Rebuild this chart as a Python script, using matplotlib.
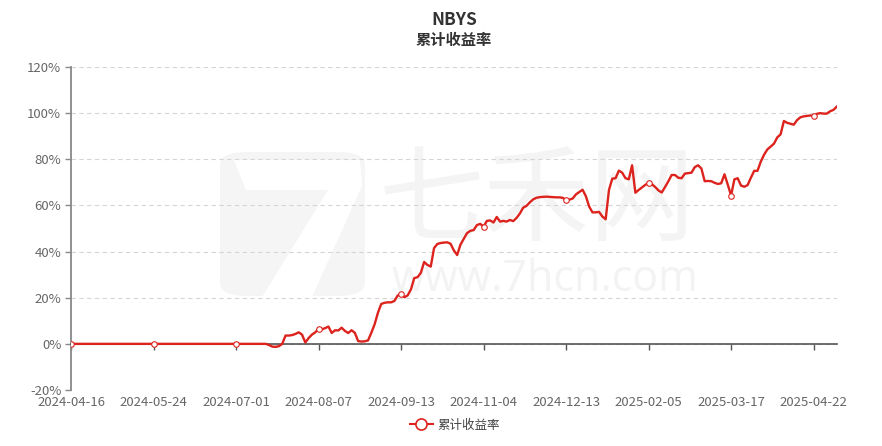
import matplotlib
matplotlib.use("Agg")
import matplotlib.pyplot as plt
import matplotlib.transforms as mtransforms
from matplotlib.lines import Line2D
from matplotlib.patches import FancyBboxPatch, Polygon

plt.rcParams['font.family'] = ['Noto Sans CJK SC', 'DejaVu Sans']

# Data (cumulative return in %, one value per trading day)
title_code = "NBYS"
series_name = "累计收益率"
tick_labels = ["2024-04-16", "2024-05-24", "2024-07-01", "2024-08-07", "2024-09-13",
               "2024-11-04", "2024-12-13", "2025-02-05", "2025-03-17", "2025-04-22"]
label_step = 25

returns = [
    0, 0, 0, 0, 0, 0, 0, 0, 0, 0,
    0, 0, 0, 0, 0, 0, 0, 0, 0, 0,
    0, 0, 0, 0, 0, 0, 0, 0, 0, 0,
    0, 0, 0, 0, 0, 0, 0, 0, 0, 0,
    0, 0, 0, 0, 0, 0, 0, 0, 0, 0,
    0, 0, 0, 0, 0, 0, 0, 0, 0, 0,
    -0.5, -1.2, -1.3, -1.0, 0.0, 3.6, 3.6, 3.8, 4.3, 5.0,
    4.0, 0.6, 2.5, 4.0, 5.0, 6.5, 6.3, 6.8, 7.5, 4.7,
    5.9, 5.8, 7.0, 5.6, 4.7, 5.9, 4.8, 1.2, 1.0, 1.1,
    1.5, 4.8, 8.5, 13.5, 17.3, 17.8, 18.0, 18.0, 18.6, 21.0,
    21.6, 20.2, 21.0, 23.6, 28.5, 28.9, 30.8, 35.5, 34.2, 33.5,
    41.5, 43.3, 43.7, 43.9, 44.0, 43.4, 40.5, 38.5, 43.0, 45.5,
    48.0, 49.0, 49.3, 51.5, 52.0, 50.8, 53.3, 53.5, 52.6, 55.0,
    53.0, 53.3, 53.0, 53.7, 53.2, 54.6, 56.5, 59.0, 59.8, 61.3,
    62.6, 63.3, 63.6, 63.7, 63.8, 63.7, 63.6, 63.5, 63.5, 63.3,
    62.2, 62.5, 63.0, 64.8, 65.8, 66.8, 64.0, 59.5, 57.0, 57.0,
    57.2, 55.2, 54.0, 66.7, 71.6, 71.8, 75.1, 74.2, 71.8, 71.3,
    77.4, 65.5, 66.7, 67.8, 68.9, 69.8, 69.2, 68.0, 66.5, 65.6,
    68.0, 70.5, 73.2, 73.2, 72.0, 71.8, 73.8, 74.0, 74.2, 76.6,
    77.4, 76.0, 70.5, 70.6, 70.5, 69.8, 69.3, 69.6, 73.5, 69.0,
    64.3, 71.3, 71.8, 68.6, 68.1, 68.8, 72.0, 75.0, 75.0, 79.0,
    82.0, 84.3, 85.5, 86.8, 89.5, 90.8, 96.6, 95.8, 95.4, 95.0,
    97.0, 98.2, 98.6, 98.8, 99.0, 98.8, 99.7, 100.0, 99.8, 99.8,
    100.8, 101.4, 102.8,
]

W, H = 882, 446
fig = plt.figure(figsize=(W / 100, H / 100), dpi=100)
ax = fig.add_axes([71 / W, 56 / H, (836.7 - 71) / W, (390 - 67) / H])
ax.set_zorder(2)
ax.patch.set_alpha(0)

# watermark (faint logo + site name), kept behind the axes
logo = FancyBboxPatch((220 / W, 1 - 296 / H), 145 / W, 144 / H,
                      boxstyle="round,pad=0,rounding_size=0.03",
                      transform=fig.transFigure, fc='#f5f5f5', ec='none', zorder=-2)
fig.patches.append(logo)
seven = Polygon([(234 / W, 1 - 160 / H), (360 / W, 1 - 160 / H), (362 / W, 1 - 186 / H),
                 (312 / W, 1 - 297 / H), (262 / W, 1 - 297 / H), (328 / W, 1 - 190 / H),
                 (246 / W, 1 - 190 / H)],
                closed=True, transform=fig.transFigure, fc='white', ec='none', zorder=-1)
fig.patches.append(seven)
fig.text(537 / W, 1 - 203 / H, "七禾网", fontsize=76, color='#f4f4f4',
         ha='center', va='center', zorder=-1)
fig.text(545 / W, 1 - 280 / H, "www.7hcn.com", fontsize=31, color='#f3f3f3',
         ha='center', va='center', family=['Open Sans', 'DejaVu Sans'], zorder=-1)

x = list(range(len(returns)))
red = '#dc231d'
ax.plot(x, returns, color=red, lw=1.7, zorder=3)
mark_idx = list(range(0, len(returns), label_step))
ax.plot([x[i] for i in mark_idx], [returns[i] for i in mark_idx], ls='none',
        marker='o', ms=4, mfc='white', mec=red, mew=0.8, zorder=4)

ax.set_xlim(0, len(returns) - 1)
ax.set_ylim(-20, 120)
ax.set_yticks(range(-20, 121, 20))
ax.set_yticklabels([f"{v}%" for v in range(-20, 121, 20)])
ax.yaxis.grid(True, ls=(0, (4, 3)), color='#d5d5d5', lw=0.8)
ax.set_axisbelow(True)

for s in ['top', 'right']:
    ax.spines[s].set_visible(False)
ax.spines['left'].set_color('#888888')
ax.spines['left'].set_linewidth(1.3)
ax.spines['bottom'].set_position(('data', 0))
ax.spines['bottom'].set_color('#555555')
ax.spines['bottom'].set_linewidth(1.2)

ax.set_xticks(mark_idx)
ax.tick_params(axis='x', labelbottom=False, length=4, width=1, color='#555555', direction='out')
ax.tick_params(axis='y', length=4, width=1, color='#888888', labelsize=9.5,
               labelcolor='#666666', pad=3)

trans = mtransforms.blended_transform_factory(ax.transData, ax.transAxes)
for i, lab in zip(mark_idx, tick_labels):
    ax.text(i, -13 / 323, lab, transform=trans, ha='center', va='center',
            fontsize=9.5, color='#666666')

fig.text(453.9 / W, 1 - 20 / H, title_code, ha='center', va='center',
         fontsize=12.5, fontweight='bold', color='#333333')
fig.text(453.9 / W, 1 - 40 / H, series_name, ha='center', va='center',
         fontsize=11, fontweight='bold', color='#333333')

handle = Line2D([], [], color=red, lw=1.5, marker='o', ms=8, mfc='white', mec=red, mew=1.2)
fig.legend([handle], [series_name], loc='center', bbox_to_anchor=(455 / W, 1 - 425 / H),
           frameon=False, fontsize=9, handlelength=1.8, handletextpad=0.4,
           labelcolor='#444444')

fig.savefig("out.png", dpi=100)
